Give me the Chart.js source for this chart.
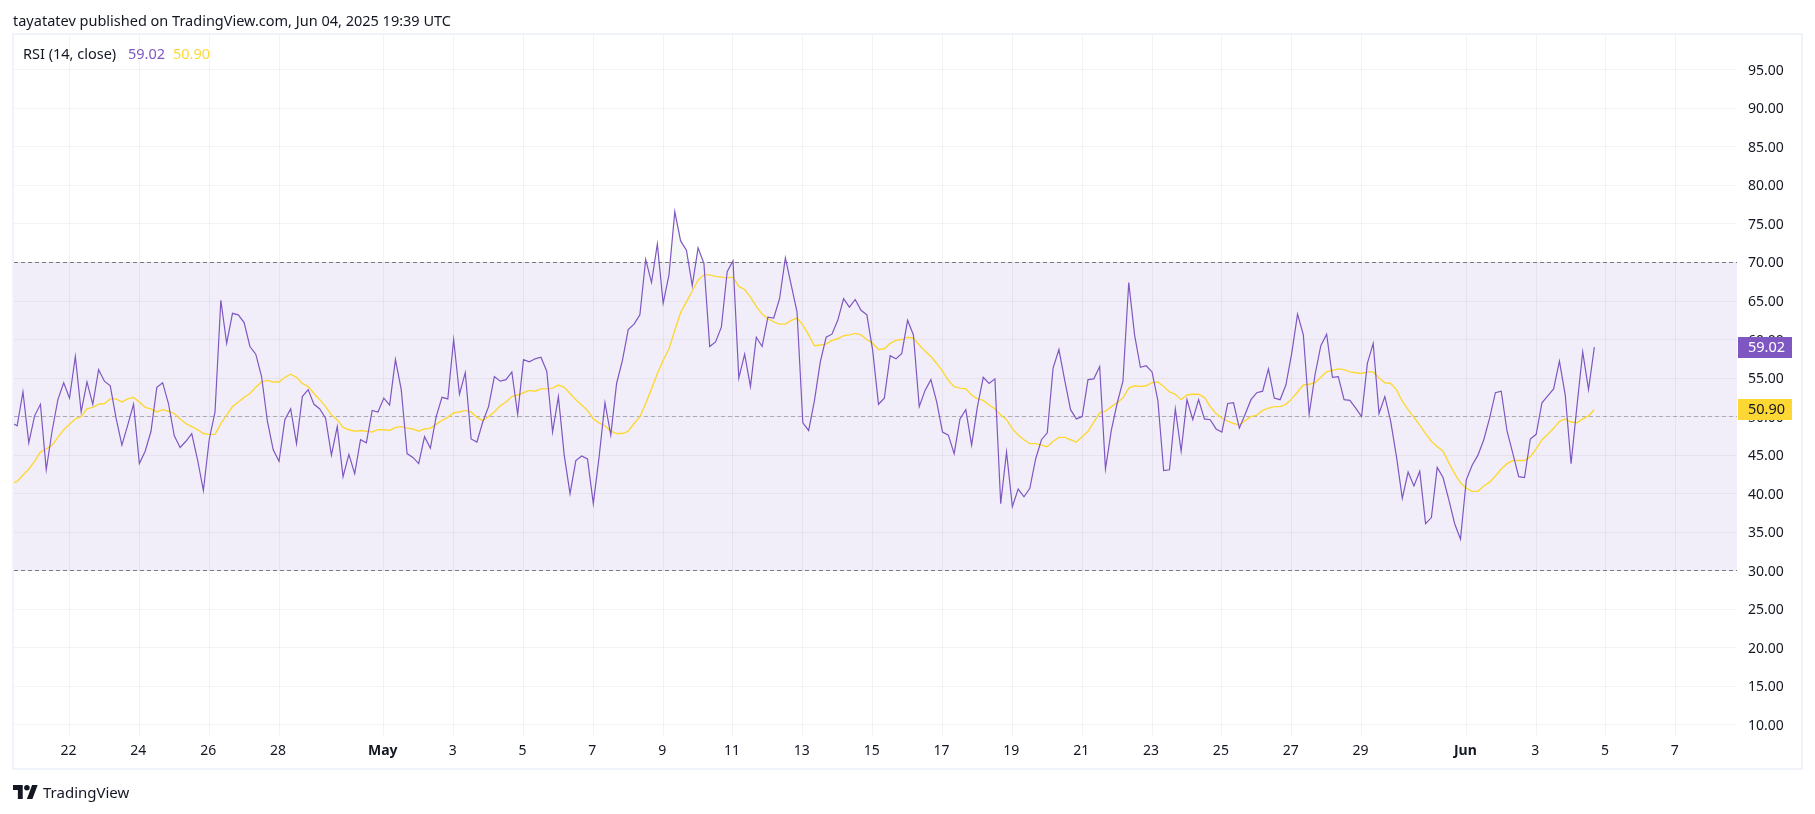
<!DOCTYPE html>
<html lang="en">
<head>
    <meta charset="UTF-8">
    <title>RSI (14, close)</title>
    <script src="https://cdn.jsdelivr.net/npm/chart.js"></script>
    <style>
        body {
            margin: 0;
            background: #fff;
            font-family: "Noto Sans", sans-serif;
            color: #131722;
            overflow: hidden;
        }
        #frame {
            position: absolute;
            left: 12px;
            top: 33px;
            width: 1787px;
            height: 733px;
            border: 2px solid #f0f3fa;
        }
        #stockChart {
            position: absolute;
            left: 0;
            top: 0;
        }
        .label {
            position: absolute;
            white-space: nowrap;
            font-size: 14.5px;
            line-height: 20px;
        }
    </style>
</head>
<body>
    <div id="frame"></div>
    <canvas id="stockChart" width="1815" height="814"></canvas>
    <div class="label" style="left:13px;top:10px">tayatatev published on TradingView.com, Jun 04, 2025 19:39 UTC</div>
    <div class="label" style="left:23px;top:43px">RSI (14, close)</div>
    <div class="label" style="left:128px;top:43px;color:#7e57c2">59.02</div>
    <div class="label" style="left:173px;top:43px;color:#fdd835">50.90</div>
    <svg style="position:absolute;left:13px;top:785px" width="25" height="14" viewBox="0 0 36 20">
        <path fill="#131722" d="M14 20H7V7H0V0h14v20zM28 20h-8l7.5-20h8L28 20z"></path>
        <circle fill="#131722" cx="20" cy="4" r="4"></circle>
    </svg>
    <div class="label" style="left:43px;top:782px;font-size:15px">TradingView</div>

    <script>
        // 4 hour bars, bar 0 is Apr 22 00:00
        const firstBar = -10;

        const rsiValues = [
            49.2, 48.8, 53.2, 46.6, 50.1, 51.6, 43.1, 48.1, 52.2, 54.4,
            52.4, 57.8, 50.6, 54.5, 51.6, 56.1, 54.6, 54.0, 49.8, 46.3,
            48.9, 51.6, 43.9, 45.5, 48.1, 53.8, 54.4, 51.7, 47.5, 46.0,
            46.8, 47.8, 44.4, 40.4, 47.0, 50.6, 65.1, 59.5, 63.4, 63.2,
            62.2, 59.1, 58.1, 55.2, 49.4, 45.7, 44.2, 49.6, 51.0, 46.5,
            52.6, 53.5, 51.6, 51.0, 49.8, 45.0, 48.7, 42.2, 45.1, 42.6,
            47.0, 46.6, 50.8, 50.6, 52.4, 51.5, 57.4, 53.5, 45.2, 44.7,
            43.9, 47.4, 45.9, 50.0, 52.5, 52.3, 60.0, 52.9, 55.7, 47.1,
            46.7, 49.3, 51.3, 55.2, 54.6, 54.8, 55.8, 50.3, 57.4, 57.1,
            57.5, 57.7, 55.9, 48.0, 52.6, 45.0, 40.0, 44.3, 44.9, 44.5,
            38.7, 44.8, 51.8, 47.6, 54.3, 57.3, 61.3, 62.0, 63.2, 70.4,
            67.4, 72.4, 64.7, 68.4, 76.6, 72.8, 71.6, 67.0, 71.9, 69.9,
            59.1, 59.7, 61.6, 68.8, 70.2, 55.0, 58.1, 53.9, 60.3, 59.1,
            62.9, 62.8, 65.3, 70.6, 67.1, 63.6, 49.2, 48.2, 52.1, 57.1,
            60.3, 60.7, 62.5, 65.3, 64.2, 65.2, 63.8, 63.2, 58.6, 51.6,
            52.4, 57.9, 57.5, 58.2, 62.5, 60.6, 51.3, 53.4, 54.8, 51.9,
            48.0, 47.6, 45.2, 49.7, 50.9, 46.3, 51.3, 55.1, 54.3, 54.9,
            38.7, 45.4, 38.3, 40.6, 39.6, 40.7, 44.5, 47.0, 47.9, 56.3,
            58.7, 54.7, 50.9, 49.7, 50.0, 54.8, 54.9, 56.5, 43.2, 48.2,
            51.7, 54.6, 67.4, 60.6, 56.4, 56.6, 55.8, 52.1, 43.0, 43.1,
            51.0, 45.5, 52.2, 49.6, 52.2, 49.7, 49.6, 48.4, 48.0, 51.7,
            51.8, 48.5, 50.3, 52.2, 53.1, 53.3, 56.2, 52.4, 52.2, 54.1,
            58.2, 63.3, 60.6, 50.3, 55.4, 59.2, 60.7, 55.1, 55.2, 52.2,
            52.1, 51.1, 50.0, 56.9, 59.5, 50.4, 52.6, 49.4, 44.8, 39.4,
            42.8, 41.0, 42.9, 36.1, 36.9, 43.4, 42.1, 39.2, 36.1, 34.1,
            41.8, 43.7, 45.0, 47.0, 49.8, 53.1, 53.3, 48.1, 45.2, 42.2,
            42.1, 47.1, 47.7, 51.8, 52.7, 53.6, 57.2, 52.8, 43.9, 51.3,
            58.4, 53.5, 59.02
        ];

        const maValues = [
            41.3, 41.6, 42.4, 43.2, 44.2, 45.4, 45.8, 46.3, 47.3, 48.3,
            49.0, 49.7, 50.0, 51.0, 51.2, 51.6, 51.7, 52.3, 52.3, 51.9,
            52.3, 52.5, 51.9, 51.2, 51.0, 50.6, 50.9, 50.7, 50.4, 49.7,
            49.1, 48.7, 48.3, 47.8, 47.7, 47.7, 49.1, 50.2, 51.3, 51.9,
            52.5, 53.0, 53.8, 54.5, 54.7, 54.5, 54.5, 55.1, 55.5, 55.1,
            54.3, 53.9, 53.0, 52.2, 51.3, 50.2, 49.6, 48.6, 48.3, 48.1,
            48.2, 48.1, 48.0, 48.3, 48.3, 48.2, 48.6, 48.7, 48.5, 48.4,
            48.1, 48.4, 48.5, 49.0, 49.5, 49.9, 50.5, 50.6, 50.8, 50.6,
            49.9, 49.5, 50.0, 50.6, 51.4, 51.9, 52.6, 52.8, 53.1, 53.4,
            53.3, 53.6, 53.6, 53.7, 54.1, 53.8, 53.0, 52.2, 51.5, 50.8,
            49.7, 49.2, 48.8, 48.1, 47.8, 47.8, 48.1, 49.1, 50.0, 51.7,
            53.6, 55.6, 57.3, 58.8, 61.2, 63.5, 64.9, 66.3, 67.7, 68.4,
            68.4, 68.2, 68.1, 68.0, 68.1, 66.9, 66.5, 65.5, 64.3, 63.3,
            62.7, 62.3, 62.0, 62.0, 62.5, 62.8, 61.9, 60.6, 59.2, 59.3,
            59.4, 59.9, 60.1, 60.5, 60.6, 60.8, 60.6, 60.0, 59.5, 58.7,
            58.8, 59.5, 59.9, 60.0, 60.3, 60.2, 59.3, 58.5, 57.8, 56.9,
            55.9, 54.7, 53.9, 53.7, 53.6, 52.8, 52.3, 52.1, 51.5, 51.0,
            50.2, 49.6, 48.4, 47.6, 47.0, 46.5, 46.5, 46.3, 46.1, 46.8,
            47.3, 47.3, 47.0, 46.7, 47.4, 48.1, 49.3, 50.5, 50.7, 51.3,
            51.8, 52.4, 53.7, 54.0, 53.9, 54.0, 54.4, 54.5, 53.9, 53.2,
            52.9, 52.2, 52.8, 52.9, 52.9, 52.5, 51.3, 50.4, 49.8, 49.4,
            49.1, 48.9, 49.5, 50.0, 50.2, 50.8, 51.1, 51.3, 51.3, 51.6,
            52.3, 53.2, 54.1, 54.2, 54.4, 55.1, 55.8, 56.0, 56.2, 56.1,
            55.8, 55.7, 55.6, 55.8, 55.8, 55.0, 54.4, 54.3, 53.5, 52.0,
            50.9, 49.9, 48.9, 47.8, 46.8, 46.1, 45.5, 44.0, 42.6, 41.4,
            40.7, 40.3, 40.3, 41.0, 41.5, 42.3, 43.2, 43.9, 44.3, 44.3,
            44.3, 44.8, 45.8, 47.0, 47.7, 48.5, 49.4, 49.7, 49.3, 49.2,
            49.7, 50.1, 50.90
        ];

        const tickBars = [0, 12, 24, 36, 54, 66, 78, 90, 102, 114, 126, 138, 150, 162, 174, 186, 198, 210, 222, 240, 252, 264, 276];
        const tickLabels = ['22', '24', '26', '28', 'May', '3', '5', '7', '9', '11', '13', '15', '17', '19', '21', '23', '25', '27', '29', 'Jun', '3', '5', '7'];
        const boldLabels = ['May', 'Jun'];
        const yTicks = [10, 15, 20, 25, 30, 35, 40, 45, 50, 55, 60, 65, 70, 75, 80, 85, 90, 95];

        const bandTop = 70;
        const bandMiddle = 50;
        const bandBottom = 30;

        const fontFamily = '"Noto Sans", sans-serif';
        const purple = '#7e57c2';
        const yellow = '#fdd835';

        function toPoints(values) {
            return values.map((v, i) => ({ x: firstBar + i, y: v }));
        }

        function hLine(ctx, area, y, color) {
            ctx.beginPath();
            ctx.setLineDash([4, 3]);
            ctx.strokeStyle = color;
            ctx.lineWidth = 1;
            ctx.moveTo(area.left, Math.floor(y) + 0.5);
            ctx.lineTo(area.right, Math.floor(y) + 0.5);
            ctx.stroke();
            ctx.setLineDash([]);
        }

        // band between 30 and 70 with its dashed lines
        const rsiBand = {
            id: 'rsiBand',
            beforeDatasetsDraw(chart) {
                const { ctx, chartArea, scales } = chart;
                const top = scales.y.getPixelForValue(bandTop);
                const bottom = scales.y.getPixelForValue(bandBottom);
                ctx.save();
                ctx.fillStyle = 'rgba(126, 87, 194, 0.1)';
                ctx.fillRect(chartArea.left, top, chartArea.right - chartArea.left, bottom - top);
                hLine(ctx, chartArea, top, '#787b86');
                hLine(ctx, chartArea, scales.y.getPixelForValue(bandMiddle), 'rgba(120, 123, 134, 0.55)');
                hLine(ctx, chartArea, bottom, '#787b86');
                ctx.restore();
            }
        };

        // last value chips on the price axis
        const lastValues = {
            id: 'lastValues',
            afterDraw(chart) {
                const { ctx, chartArea, scales } = chart;
                const chips = [
                    { value: maValues[maValues.length - 1], bg: yellow, fg: '#131722' },
                    { value: rsiValues[rsiValues.length - 1], bg: purple, fg: '#ffffff' }
                ];
                ctx.save();
                ctx.font = '14.5px ' + fontFamily;
                ctx.textBaseline = 'middle';
                chips.forEach(chip => {
                    const y = Math.floor(scales.y.getPixelForValue(chip.value));
                    ctx.fillStyle = chip.bg;
                    ctx.fillRect(chartArea.right + 1, y - 10, 54, 21);
                    ctx.fillStyle = chip.fg;
                    ctx.fillText(chip.value.toFixed(2), chartArea.right + 11, y + 1);
                });
                ctx.restore();
            }
        };

        new Chart(document.getElementById('stockChart').getContext('2d'), {
            type: 'line',
            plugins: [rsiBand, lastValues],
            data: {
                datasets: [
                    {
                        label: 'RSI',
                        data: toPoints(rsiValues),
                        borderColor: purple,
                        borderWidth: 1.2,
                        pointRadius: 0,
                        tension: 0,
                        fill: { target: { value: bandTop }, above: 'rgba(120, 123, 134, 0.07)', below: 'transparent' }
                    },
                    {
                        label: 'RSI MA',
                        data: toPoints(maValues),
                        borderColor: yellow,
                        borderWidth: 1.4,
                        pointRadius: 0,
                        tension: 0,
                        fill: false
                    }
                ]
            },
            options: {
                responsive: false,
                animation: false,
                events: [],
                layout: { padding: { left: 14, top: 34.5, right: 13, bottom: 46 } },
                plugins: { legend: { display: false }, tooltip: { enabled: false } },
                scales: {
                    x: {
                        type: 'linear',
                        min: -9.54,
                        max: 286.51,
                        afterBuildTicks: scale => { scale.ticks = tickBars.map(v => ({ value: v })); },
                        afterFit: scale => { scale.height = 33; },
                        border: { display: false },
                        grid: { color: 'rgba(42, 46, 57, 0.06)', drawTicks: false },
                        ticks: {
                            autoSkip: false,
                            maxRotation: 0,
                            padding: 8,
                            labelOffset: -1,
                            color: '#131722',
                            font: c => ({
                                family: fontFamily,
                                size: 14,
                                weight: c.tick && boldLabels.includes(c.tick.label) ? 'bold' : 'normal'
                            }),
                            callback: value => tickLabels[tickBars.indexOf(value)]
                        }
                    },
                    y: {
                        position: 'right',
                        min: 8.68,
                        max: 99.59,
                        afterBuildTicks: scale => { scale.ticks = yTicks.map(v => ({ value: v })); },
                        afterFit: scale => { scale.width = 65; },
                        border: { display: false },
                        grid: { color: 'rgba(42, 46, 57, 0.06)', drawTicks: false },
                        ticks: {
                            autoSkip: false,
                            padding: 11,
                            labelOffset: 1,
                            color: '#131722',
                            font: { family: fontFamily, size: 14 },
                            callback: value => value.toFixed(2)
                        }
                    }
                }
            }
        });
    </script>
</body>
</html>
